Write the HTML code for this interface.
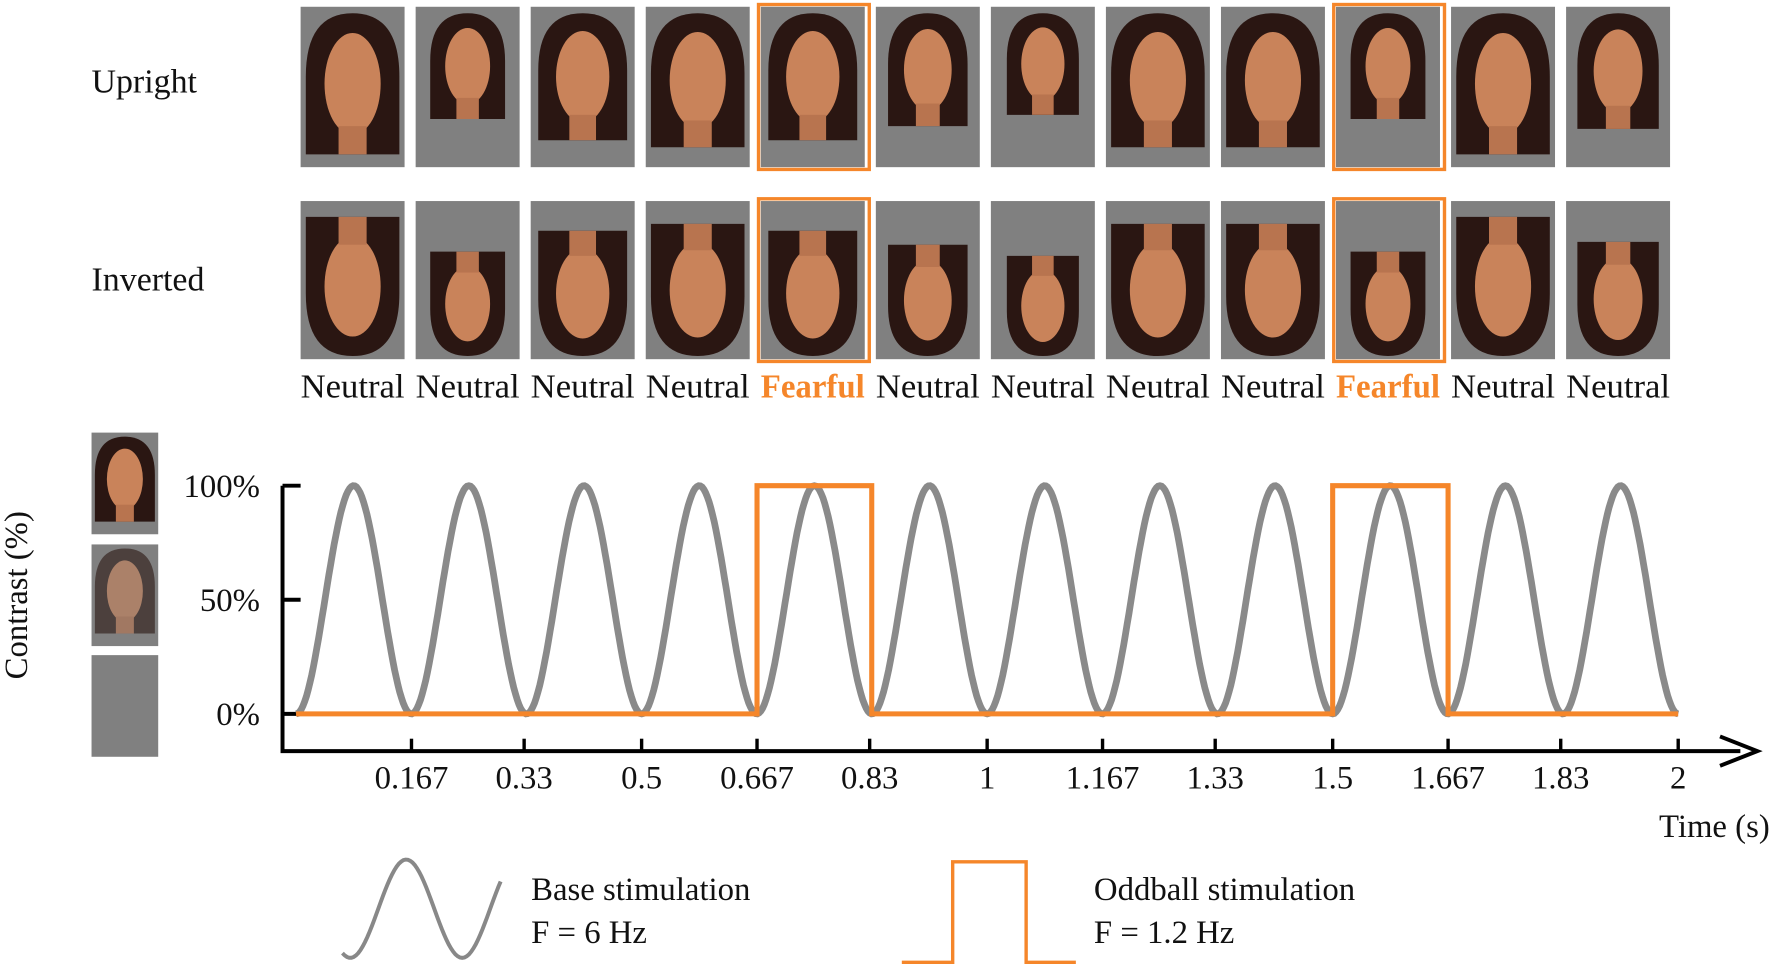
<!DOCTYPE html>
<html><head><meta charset="utf-8"><style>
html,body{margin:0;padding:0;background:#fff;width:1772px;height:968px;overflow:hidden}
svg{display:block}
text{font-family:"Liberation Serif",serif;fill:#111}
</style></head><body>
<svg id="fig" width="1772" height="968" viewBox="0 0 1568 857" preserveAspectRatio="none" xmlns="http://www.w3.org/2000/svg">
<text x="81" y="82" font-size="30">Upright</text>
<text x="81" y="257" font-size="30">Inverted</text>
<g id="faces"></g>
<g id="side"></g>
<text transform="translate(24,527) rotate(-90)" text-anchor="middle" font-size="29">Contrast (%)</text>
<g id="chart"></g>
<text x="1566" y="741" text-anchor="end" font-size="29">Time (s)</text>
<g>
<path id="legsine" fill="none" stroke="#888" stroke-width="3.5"/>
<text x="470" y="797" font-size="29">Base stimulation</text>
<text x="470" y="835" font-size="29">F = 6 Hz</text>
<path d="M798,852 H843 V763 H908 V852 H952" fill="none" stroke="#f5862a" stroke-width="3"/>
<text x="968" y="797" font-size="29">Oddball stimulation</text>
<text x="968" y="835" font-size="29">F = 1.2 Hz</text>
</g>
</svg>
<script>
const NS="http://www.w3.org/2000/svg";
const faceLabels=["Neutral","Neutral","Neutral","Neutral","Fearful","Neutral","Neutral","Neutral","Neutral","Fearful","Neutral","Neutral"];
const faceSizes=[1,0.75,0.9,0.95,0.9,0.8,0.72,0.95,0.95,0.75,1,0.82];
const tickValues=[0.167,0.33,0.5,0.667,0.83,1,1.167,1.33,1.5,1.667,1.83,2];
const tickLabels=["0.167","0.33","0.5","0.667","0.83","1","1.167","1.33","1.5","1.667","1.83","2"];
const yTickValues=[0,50,100];
const yTickLabels=["0%","50%","100%"];
const baseFreq=[6];
const oddballOn=[[0.667,0.833],[1.5,1.667]];
const tMax=[2];
function mk(tag,attrs,parent){const e=document.createElementNS(NS,tag);for(const k in attrs)e.setAttribute(k,attrs[k]);parent.appendChild(e);return e;}
const X=t=>262+t*611.5, Y=v=>632-v*2.02;
const fg=document.getElementById('faces');
function face(g,cx,top,w,h,s,inv){
  const hairH=h*0.88*s, hw=w*0.45*Math.min(1,s+0.05);
  const y0=inv? top+h-hairH-h*0.02 : top+h*0.04;
  const sg=inv?-1:1;
  const ref=inv? y0+hairH : y0;
  const p=`M${cx-hw},${ref+sg*hairH} V${ref+sg*hairH*0.45} Q${cx-hw},${ref} ${cx},${ref} Q${cx+hw},${ref} ${cx+hw},${ref+sg*hairH*0.45} V${ref+sg*hairH} Z`;
  const hair=mk('path',{d:p,fill:'#2a1612'},g);
  
  const fc=mk('ellipse',{cx:cx,cy:ref+sg*hairH*0.5,rx:hw*0.6,ry:hairH*0.36,fill:'#c9835a'},g);
  
  const nk=mk('rect',{x:cx-hw*0.3,y:inv?ref-hairH:ref+hairH*0.8,width:hw*0.6,height:hairH*0.2,fill:'#b8744f'},g);
  
}
for(let i=0;i<12;i++){
  const x=266+i*101.8, w=92;
  for(let r=0;r<2;r++){
    const top=r?178:6, h=r?140:142;
    const g=mk('g',{},fg);
    
    
    const rc=mk('rect',{x:x,y:top,width:w,height:h,fill:'#808080'},g);
    
    face(g,x+w/2,top,w,h,faceSizes[i],r===1);
    if(faceLabels[i]==='Fearful'){
      const fr=mk('rect',{x:x-2,y:top-2,width:w+6,height:h+4,fill:'none',stroke:'#f5862a','stroke-width':3},g);
      
    }
  }
  const t=mk('text',{x:x+w/2,y:352,'text-anchor':'middle','font-size':30},fg);
  
  t.setAttribute('textLength','92');t.setAttribute('lengthAdjust','spacingAndGlyphs');
  t.textContent=faceLabels[i];
  if(faceLabels[i]==='Fearful'){t.setAttribute('style','fill:#f5862a;font-weight:bold');}
}
const sg=document.getElementById('side');
[[383,1],[482,0.6],[580,0]].forEach((p,k)=>{
  const g=mk('g',{},sg);
  
  
  const r=mk('rect',{x:81,y:p[0],width:59,height:90,fill:'#808080'},g);
  
  if(p[1]>0){const gg=mk('g',{opacity:p[1]},g);face(gg,110.5,p[0],59,90,0.95,false);}
});
const cg=document.getElementById('chart');
const ax=mk('path',{d:`M250,430 V665 H1540`,fill:'none',stroke:'#000','stroke-width':3.5},cg);

const ar=mk('path',{d:'M1522,652 L1555,665 L1522,678',fill:'none',stroke:'#000','stroke-width':3.5},cg);

yTickValues.forEach((v,i)=>{
  const l=mk('line',{x1:250,x2:266,y1:Y(v),y2:Y(v),stroke:'#000','stroke-width':3.5},cg);
  
  const t=mk('text',{x:230,y:Y(v)+10,'text-anchor':'end','font-size':29},cg);
  
  t.textContent=yTickLabels[i];
});
tickValues.forEach((v,i)=>{
  const l=mk('line',{x1:X(v),x2:X(v),y1:665,y2:654,stroke:'#000','stroke-width':3},cg);
  
  const t=mk('text',{x:X(v),y:698,'text-anchor':'middle','font-size':29},cg);
  
  t.textContent=tickLabels[i];
});
let d='';
for(let k=0;k<=800;k++){const t=tMax[0]*k/800;const v=50*(1-Math.cos(2*Math.PI*baseFreq[0]*t));d+=(k?'L':'M')+X(t).toFixed(1)+','+Y(v).toFixed(1);}
const sp=mk('path',{d:d,fill:'none',stroke:'#8a8a8a','stroke-width':6},cg);

let sq='M'+X(0)+','+Y(0);
oddballOn.forEach(p=>{sq+=`H${X(p[0])}V${Y(100)}H${X(p[1])}V${Y(0)}`;});
sq+='H'+X(tMax[0]);
const op=mk('path',{d:sq,fill:'none',stroke:'#f5862a','stroke-width':4.5},cg);

let ld='';for(let k=0;k<=70;k++){const x=303+k*2;ld+=(k?'L':'M')+x+','+(804.5+43.5*Math.cos(2*Math.PI*(x-310)/99)).toFixed(1);}
document.getElementById('legsine').setAttribute('d',ld);
</script>
</body></html>
